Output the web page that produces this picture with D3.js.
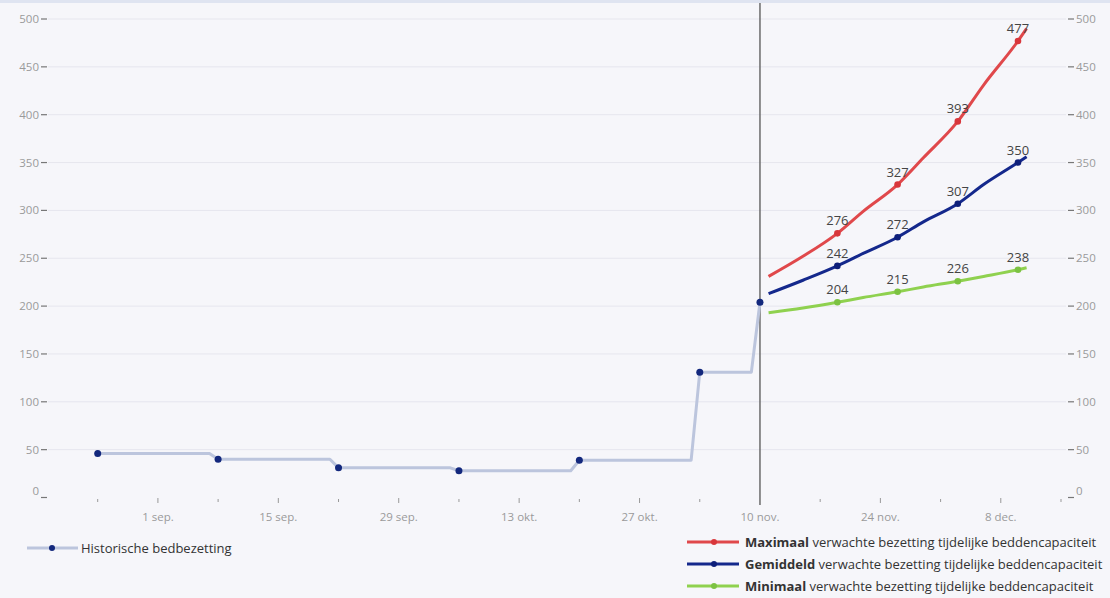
<!DOCTYPE html>
<html>
<head>
<meta charset="utf-8">
<script src="https://cdn.jsdelivr.net/npm/d3@7"></script>
<style>
  html, body { margin: 0; padding: 0; background: #f6f6fa; }
  svg { display: block; font-family: 'Open Sans', sans-serif; }
  .tick-label { fill: #9a9a9a; font-size: 11.5px; }
  .grid line { stroke: #e6e6ee; stroke-width: 1; }
  .legend-text { fill: #333; font-size: 13px; }
  .value-label { fill: #444; font-size: 13px; }
</style>
</head>
<body>
<div id="chart"></div>
<script>
// historical occupancy, [date, value, hasMarker]
const historic = [
  ['2020-08-25', 46, true],
  ['2020-09-07', 46, false],
  ['2020-09-08', 40, true],
  ['2020-09-21', 40, false],
  ['2020-09-22', 31, true],
  ['2020-10-05', 31, false],
  ['2020-10-06', 28, true],
  ['2020-10-19', 28, false],
  ['2020-10-20', 39, true],
  ['2020-11-02', 39, false],
  ['2020-11-03', 131, true],
  ['2020-11-09', 131, false],
  ['2020-11-10', 204, true]
];

// forecast dates, marker dates get a label
const forecastDates = ['2020-11-11', '2020-11-15', '2020-11-19', '2020-11-22', '2020-11-26',
  '2020-11-29', '2020-12-03', '2020-12-06', '2020-12-10', '2020-12-11'];
const markerDates = ['2020-11-19', '2020-11-26', '2020-12-03', '2020-12-10'];

const maxValues = [231, 252, 276, 299, 327, 355, 393, 431, 477, 490];
const avgValues = [213, 227, 242, 255, 272, 288, 307, 327, 350, 356];
const minValues = [193, 198, 204, 209, 215, 220, 226, 231, 238, 240];

const yTicks = [0, 50, 100, 150, 200, 250, 300, 350, 400, 450, 500];
const xLabelDates = ['2020-09-01', '2020-09-15', '2020-09-29', '2020-10-13', '2020-10-27',
  '2020-11-10', '2020-11-24', '2020-12-08'];
const monthNames = ['jan.', 'feb.', 'mrt.', 'apr.', 'mei', 'jun.', 'jul.', 'aug.', 'sep.', 'okt.', 'nov.', 'dec.'];
const todayDate = '2020-11-10';

const series = [
  { name: 'Maximaal', values: maxValues, color: '#e0484b', marker: '#d8363b' },
  { name: 'Gemiddeld', values: avgValues, color: '#14288c', marker: '#0e1f7a' },
  { name: 'Minimaal', values: minValues, color: '#8fd14f', marker: '#7cc242' }
];

const width = 1110, height = 598;
const parse = s => new Date(s + 'T00:00:00Z');

const svg = d3.select('#chart').append('svg')
  .attr('width', width)
  .attr('height', height);

svg.append('rect')
  .attr('width', width).attr('height', height)
  .attr('fill', '#f6f6fa');
svg.append('rect')
  .attr('width', width).attr('height', 3)
  .attr('fill', '#dfe4f1');

const x = d3.scaleUtc()
  .domain([parse('2020-08-25'), parse('2020-12-15')])
  .range([97.7, 1061]);

const y = d3.scaleLinear()
  .domain([0, 500])
  .range([497.5, 19]);

// gridlines
svg.append('g')
  .attr('class', 'grid')
  .selectAll('line')
  .data(yTicks.filter(d => d > 0))
  .enter()
  .append('line')
  .attr('x1', 48).attr('x2', 1066)
  .attr('y1', d => y(d)).attr('y2', d => y(d));

// left & right y axis
const yAxisL = svg.append('g');
const yAxisR = svg.append('g');
[yAxisL, yAxisR].forEach((g, i) => {
  const left = i === 0;
  const t = g.selectAll('g').data(yTicks).enter().append('g');
  t.append('line')
    .attr('x1', left ? 41 : 1068).attr('x2', left ? 47 : 1074)
    .attr('y1', d => y(d)).attr('y2', d => y(d))
    .attr('stroke', '#777').attr('stroke-width', 1.2);
  t.append('text')
    .attr('class', 'tick-label')
    .attr('x', left ? 39 : 1076)
    .attr('y', d => d === 0 ? y(d) - 7 : y(d))
    .attr('dy', '0.35em')
    .attr('text-anchor', left ? 'end' : 'start')
    .text(d => d);
});

// x axis ticks (weekly) and labels (biweekly)
const weekly = d3.utcDay.range(parse('2020-08-25'), parse('2020-12-16'), 7);
const labelled = new Set(xLabelDates.map(s => +parse(s)));
svg.append('g')
  .selectAll('line')
  .data(weekly.filter(d => +d !== +parse(todayDate)))
  .enter()
  .append('line')
  .attr('x1', d => x(d)).attr('x2', d => x(d))
  .attr('y1', d => labelled.has(+d) ? 498 : 499)
  .attr('y2', d => labelled.has(+d) ? 503 : 502)
  .attr('stroke', '#999').attr('stroke-width', 1);

svg.append('g')
  .selectAll('text')
  .data(xLabelDates.map(parse))
  .enter()
  .append('text')
  .attr('class', 'tick-label')
  .attr('x', d => x(d))
  .attr('y', 521)
  .attr('text-anchor', 'middle')
  .text(d => d.getUTCDate() + ' ' + monthNames[d.getUTCMonth()]);

// today line
svg.append('line')
  .attr('x1', x(parse(todayDate))).attr('x2', x(parse(todayDate)))
  .attr('y1', 3).attr('y2', 505)
  .attr('stroke', '#6b6b6b').attr('stroke-width', 1.5);

// historical line
const histLine = d3.line()
  .x(d => x(parse(d[0])))
  .y(d => y(d[1]));

svg.append('path')
  .datum(historic)
  .attr('d', histLine)
  .attr('fill', 'none')
  .attr('stroke', '#bcc5dd')
  .attr('stroke-width', 3)
  .attr('stroke-linejoin', 'round');

svg.append('g')
  .selectAll('circle')
  .data(historic.filter(d => d[2]))
  .enter()
  .append('circle')
  .attr('cx', d => x(parse(d[0])))
  .attr('cy', d => y(d[1]))
  .attr('r', 3.5)
  .attr('fill', '#13287d');

// forecast lines
const fcLine = d3.line()
  .x(d => x(d.date))
  .y(d => y(d.value))
  .curve(d3.curveMonotoneX);

const markerSet = new Set(markerDates);
series.forEach(s => {
  const pts = forecastDates.map((ds, i) => ({ date: parse(ds), key: ds, value: s.values[i] }));
  const g = svg.append('g');
  g.append('path')
    .datum(pts)
    .attr('d', fcLine)
    .attr('fill', 'none')
    .attr('stroke', s.color)
    .attr('stroke-width', 3)
    .attr('stroke-linejoin', 'round');
  const marks = pts.filter(p => markerSet.has(p.key));
  g.selectAll('circle')
    .data(marks)
    .enter()
    .append('circle')
    .attr('cx', d => x(d.date))
    .attr('cy', d => y(d.value))
    .attr('r', 3.3)
    .attr('fill', s.marker);
  g.selectAll('text')
    .data(marks)
    .enter()
    .append('text')
    .attr('class', 'value-label')
    .attr('x', d => x(d.date))
    .attr('y', d => y(d.value) - 8)
    .attr('text-anchor', 'middle')
    .text(d => d.value);
});

// legend: historical
const lh = svg.append('g').attr('transform', 'translate(27,548)');
lh.append('line').attr('x1', 0).attr('x2', 51).attr('y1', 0).attr('y2', 0)
  .attr('stroke', '#bcc5dd').attr('stroke-width', 3);
lh.append('circle').attr('cx', 25).attr('cy', 0).attr('r', 3).attr('fill', '#13287d');
lh.append('text').attr('class', 'legend-text').attr('x', 54).attr('dy', '0.35em')
  .text('Historische bedbezetting');

// legend: forecast
series.forEach((s, i) => {
  const g = svg.append('g').attr('transform', `translate(687,${542 + i * 22})`);
  g.append('line').attr('x1', 0).attr('x2', 52).attr('y1', 0).attr('y2', 0)
    .attr('stroke', s.color).attr('stroke-width', 3);
  g.append('circle').attr('cx', 27).attr('cy', 0).attr('r', 3).attr('fill', s.marker);
  const t = g.append('text').attr('class', 'legend-text').attr('x', 58).attr('dy', '0.35em');
  t.append('tspan').attr('font-weight', 'bold').text(s.name);
  t.append('tspan').text(' verwachte bezetting tijdelijke beddencapaciteit');
});
</script>
</body>
</html>
